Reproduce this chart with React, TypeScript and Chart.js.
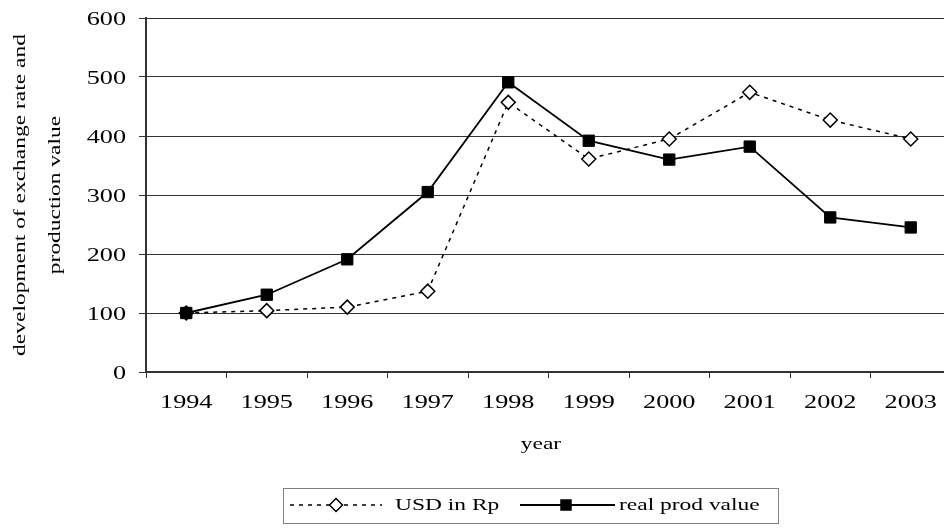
import React, { useEffect, useRef } from 'react';
import { Chart, registerables } from 'chart.js';

Chart.register(...registerables);

// ---- data ----
const years = ['1994', '1995', '1996', '1997', '1998', '1999', '2000', '2001', '2002', '2003'];
const usdInRp = [100, 104, 110, 137, 457, 361, 395, 474, 427, 395];
const realProdValue = [100, 131, 191, 305, 491, 392, 360, 382, 262, 245];
const seriesLabels = ['USD in Rp', 'real prod value'];
const yMin = 0;
const yMax = 600;
const yStep = 100;
const yTitleLines = ['development of exchange rate and', 'production value'];
const xTitle = 'year';

const STRETCH = 1.38;
const SERIF = '"Liberation Serif", "Times New Roman", serif';

function drawStretched(
  ctx: CanvasRenderingContext2D,
  text: string,
  x: number,
  y: number,
  size: number,
  align: CanvasTextAlign,
  rotate = false
) {
  ctx.save();
  ctx.translate(x, y);
  if (rotate) ctx.rotate(-Math.PI / 2);
  ctx.scale(STRETCH, 1);
  ctx.font = `${size}px ${SERIF}`;
  ctx.textAlign = align;
  ctx.textBaseline = 'alphabetic';
  ctx.fillStyle = '#000';
  ctx.fillText(text, 0, 0);
  ctx.restore();
}

const textPlugin = {
  id: 'textPlugin',
  afterDraw(chart: any) {
    const ctx: CanvasRenderingContext2D = chart.ctx;
    const xs = chart.scales.x;
    const ys = chart.scales.y;
    // y tick labels
    ys.ticks.forEach((t: any) => {
      const y = ys.getPixelForValue(t.value);
      drawStretched(ctx, String(t.value), ys.right - 20, y + 6.5, 19, 'right');
    });
    // x tick labels
    xs.ticks.forEach((t: any, i: number) => {
      const x = xs.getPixelForTick(i);
      drawStretched(ctx, String(xs.getLabelForValue(t.value)), x, 408, 19, 'center');
    });
    // axis titles
    const midY = (chart.chartArea.top + chart.chartArea.bottom) / 2;
    drawStretched(ctx, yTitleLines[0], 25, midY, 17, 'center', true);
    drawStretched(ctx, yTitleLines[1], 60, midY, 17, 'center', true);
    drawStretched(ctx, xTitle, 541, 449, 17, 'center');

    // legend
    const ds = chart.data.datasets;
    ctx.save();
    ctx.strokeStyle = '#808080';
    ctx.lineWidth = 1;
    ctx.strokeRect(283.5, 488.5, 495, 35);
    const ly = 505;
    // sample 1: dashed + diamond
    ctx.strokeStyle = '#000';
    ctx.lineWidth = 1.5;
    ctx.setLineDash([4, 5]);
    ctx.beginPath();
    ctx.moveTo(290, ly);
    ctx.lineTo(382, ly);
    ctx.stroke();
    ctx.setLineDash([]);
    ctx.beginPath();
    const dx = 336, dr = 6.5;
    ctx.moveTo(dx, ly - dr);
    ctx.lineTo(dx + dr, ly);
    ctx.lineTo(dx, ly + dr);
    ctx.lineTo(dx - dr, ly);
    ctx.closePath();
    ctx.fillStyle = '#fff';
    ctx.fill();
    ctx.stroke();
    // sample 2: solid + square
    ctx.lineWidth = 1.8;
    ctx.beginPath();
    ctx.moveTo(520, ly);
    ctx.lineTo(615, ly);
    ctx.stroke();
    ctx.fillStyle = '#000';
    ctx.fillRect(566 - 5.75, ly - 5.75, 11.5, 11.5);
    ctx.restore();
    drawStretched(ctx, ds[0].label, 395, 510, 17, 'left');
    drawStretched(ctx, ds[1].label, 619, 510, 17, 'left');
  },
};

export default function App() {
  const ref = useRef<HTMLCanvasElement | null>(null);

  useEffect(() => {
    if (!ref.current) return;
    const chart = new Chart(ref.current, {
      type: 'line',
      data: {
        labels: years,
        datasets: [
          {
            label: seriesLabels[0],
            data: usdInRp,
            borderColor: '#000',
            borderWidth: 1.5,
            borderDash: [4, 5],
            pointStyle: 'rectRot',
            pointRadius: 7,
            pointBorderWidth: 1.5,
            pointBorderColor: '#000',
            pointBackgroundColor: '#fff',
            fill: false,
            tension: 0,
            order: 1,
          },
          {
            label: seriesLabels[1],
            data: realProdValue,
            borderColor: '#000',
            borderWidth: 1.8,
            pointStyle: 'rect',
            pointRadius: 8,
            pointBorderWidth: 1,
            pointBorderColor: '#000',
            pointBackgroundColor: '#000',
            fill: false,
            tension: 0,
            order: 0,
          },
        ],
      },
      options: {
        responsive: false,
        animation: false,
        devicePixelRatio: 1,
        layout: { padding: { left: 0, right: 5, top: 18, bottom: 0 } },
        plugins: {
          legend: { display: false },
          tooltip: { enabled: false },
          title: { display: false },
        },
        scales: {
          x: {
            type: 'category',
            offset: true,
            grid: {
              display: true,
              offset: true,
              drawOnChartArea: false,
              drawTicks: true,
              tickLength: 6,
              color: '#333',
              lineWidth: 1,
            },
            border: { display: true, color: '#333', width: 1.5 },
            ticks: { display: false },
            afterFit: (scale: any) => {
              scale.height = 157;
            },
          },
          y: {
            min: yMin,
            max: yMax,
            ticks: { display: false, stepSize: yStep },
            grid: {
              color: '#333',
              lineWidth: 1,
              drawTicks: true,
              tickLength: 7,
            },
            border: { display: true, color: '#333', width: 2 },
            afterFit: (scale: any) => {
              scale.width = 146;
            },
          },
        },
      },
      plugins: [textPlugin],
    } as any);
    return () => chart.destroy();
  }, []);

  return (
    <div
      style={{
        position: 'absolute',
        left: 0,
        top: 0,
        width: 944,
        height: 529,
        overflow: 'hidden',
        background: '#fff',
      }}
    >
      <canvas ref={ref} width={960} height={529} style={{ width: 960, height: 529, display: 'block' }} />
    </div>
  );
}
